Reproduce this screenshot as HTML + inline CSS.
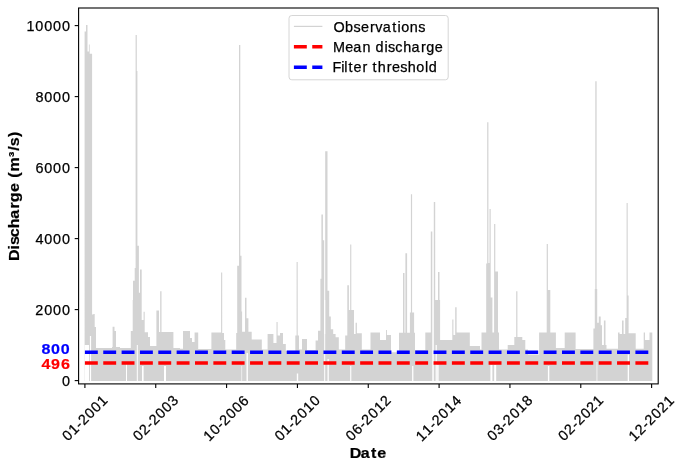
<!DOCTYPE html>
<html><head><meta charset="utf-8"><style>
html,body{margin:0;padding:0;background:#fff;}
svg{display:block;will-change:transform;}
text{font-family:"Liberation Sans",sans-serif;fill:#000;}
.tk{stroke:#000;stroke-width:1.1;}
</style></head><body>
<svg width="685" height="469" viewBox="0 0 685 469">
<rect width="685" height="469" fill="#fff"/>
<path d="M84.6 381V31.5H86.0V25.1H87.5V51.4H88.9V44.4H89.7V53.8H92.1V314.5H93.4V314.0H94.7V327.0H96.0V348.0H112.0V347.0H112.6V326.7H114.5V331.0H116.0V347.0H120.0V348.0H130.8V331.0H132.7V300.0H133.0V280.7H134.7V268.0H135.6V35.0H136.8V71.0H137.4V245.7H138.9V292.7H140.0V269.6H141.7V320.0H143.6V311.7H144.7V332.2H148.0V337.0H150.0V346.0H156.4V310.5H159.0V332.0H160.2V291.3H161.5V332.0H173.4V348.0H180.0V348.7H183.0V331.0H190.0V338.0H192.0V342.0H194.6V332.6H198.2V349.0H211.4V332.6H221.1V272.6H222.2V333.0H224.0V340.0H225.3V349.4H236.2V333.0H237.2V265.7H239.0V45.0H240.3V255.7H241.5V311.6H242.1V331.7H245.0V297.7H246.5V318.3H248.4V331.7H251.7V339.5H261.8V349.4H267.6V334.0H273.4V343.0H276.5V322.0H277.6V335.5H280.0V333.0H283.0V344.0H285.8V350.8H295.3V335.5H296.6V262.0H297.7V335.5H299.0V349.4H302.0V339.0H307.0V350.0H315.6V340.4H318.0V330.8H320.4V278.7H321.4V214.4H322.9V240.3H324.2V334.0H325.2V151.3H327.5V290.8H329.2V316.4H330.8V329.2H333.2V334.0H335.6V337.2H338.8V349.4H345.2V335.6H347.3V285.2H348.9V310.0H350.2V244.5H351.3V310.0H354.0V334.0H355.6V322.8H356.9V333.2H361.8V349.4H370.5V332.6H380.0V340.0H386.0V330.0H386.9V335.0H391.0V352.3H399.0V332.7H403.0V273.0H404.5V332.7H405.4V253.2H407.1V332.7H409.9V312.5H410.9V194.3H412.1V312.5H414.1V332.7H415.0V350.0H425.3V332.6H430.8V231.5H432.3V381.0H433.8V202.0H435.2V300.0H438.0V272.0H439.5V300.0H440.1V340.0H452.3V319.5H453.4V335.0H455.2V307.3H456.6V332.6H469.8V346.0H480.0V349.4H481.5V332.6H486.2V263.5H487.2V122.2H488.4V263.0H489.5V209.0H490.7V297.6H492.4V332.6H494.1V224.0H495.3V271.6H498.0V332.6H499.0V349.4H507.7V345.0H514.3V337.0H516.2V291.2H517.4V337.0H522.3V340.0H525.3V349.4H528.0V354.5H539.1V332.6H546.7V244.0H547.9V290.0H550.3V332.6H555.9V348.0H564.7V332.6H575.6V349.0H593.4V328.4H594.8V289.0H595.3V81.2H596.6V289.0H597.2V322.8H598.8V316.4H600.7V325.2H602.0V345.0H603.9V320.4H605.5V345.0H606.5V348.7H618.0V332.4H619.6V334.0H622.0V320.4H623.6V334.0H625.2V318.0H626.6V203.0H627.7V295.6H628.6V333.2H635.7V348.7H643.7V332.6H645.0V340.0H649.5V332.6H652.3V381.0H652.4V381Z" fill="#d3d3d3"/>
<g fill="#fff"><rect x="84.6" y="345" width="4.4" height="36.5"/><rect x="89.9" y="336" width="1.2" height="45.5"/><rect x="126" y="362" width="1.0" height="19.5"/><rect x="136.8" y="345" width="1.0" height="36.5"/><rect x="142" y="366" width="1.6" height="15.5"/><rect x="164" y="366" width="2.0" height="15.5"/><rect x="241.5" y="366" width="0.6" height="15.5"/><rect x="246.5" y="353" width="1.4" height="28.5"/><rect x="296.8" y="373.5" width="1.4" height="8.0"/><rect x="324.2" y="300" width="1.0" height="81.5"/><rect x="327.5" y="359" width="1.3" height="22.5"/><rect x="350.2" y="366" width="1.1" height="15.5"/><rect x="412.1" y="366" width="1.3" height="15.5"/><rect x="435.6" y="345" width="1.2" height="36.5"/><rect x="437.2" y="365" width="1.4" height="16.5"/><rect x="490.4" y="365" width="2.0" height="16.5"/><rect x="494.2" y="365" width="2.0" height="16.5"/><rect x="547.9" y="366" width="1.4" height="15.5"/><rect x="596.6" y="362" width="0.7" height="19.5"/><rect x="627.7" y="354.5" width="1.3" height="27.0"/></g>
<line x1="84.9" y1="352.20" x2="651.7" y2="352.20" stroke="#0000ff" stroke-width="3.6" stroke-dasharray="12.9 5.45"/>
<line x1="84.9" y1="362.99" x2="651.7" y2="362.99" stroke="#ff0000" stroke-width="3.6" stroke-dasharray="12.9 5.45"/>
<rect x="78.6" y="8.0" width="579.6" height="375.9" fill="none" stroke="#000" stroke-width="1.1"/>
<line x1="74.7" y1="380.60" x2="78.6" y2="380.60" class="tk"/><text x="61.88" y="385.80" style="font-size:14.4px;fill:#000;stroke:#000;stroke-width:0.25px;">0</text><line x1="74.7" y1="309.60" x2="78.6" y2="309.60" class="tk"/><text x="35.20 44.21 53.05 61.88" y="314.80" style="font-size:14.4px;fill:#000;stroke:#000;stroke-width:0.25px;">2000</text><line x1="74.7" y1="238.60" x2="78.6" y2="238.60" class="tk"/><text x="35.39 44.21 53.05 61.88" y="243.80" style="font-size:14.4px;fill:#000;stroke:#000;stroke-width:0.25px;">4000</text><line x1="74.7" y1="167.60" x2="78.6" y2="167.60" class="tk"/><text x="35.38 44.21 53.05 61.88" y="172.80" style="font-size:14.4px;fill:#000;stroke:#000;stroke-width:0.25px;">6000</text><line x1="74.7" y1="96.60" x2="78.6" y2="96.60" class="tk"/><text x="35.38 44.21 53.05 61.88" y="101.80" style="font-size:14.4px;fill:#000;stroke:#000;stroke-width:0.25px;">8000</text><line x1="74.7" y1="25.60" x2="78.6" y2="25.60" class="tk"/><text x="26.46 35.37 44.21 53.05 61.88" y="30.80" style="font-size:14.4px;fill:#000;stroke:#000;stroke-width:0.25px;">10000</text>
<line x1="84.90" y1="383.9" x2="84.90" y2="387.9" class="tk"/><text x="-28.43 -19.66 -11.04 -5.91 3.09 11.93 20.70" y="4.95" style="font-size:14.4px;fill:#000;stroke:#000;stroke-width:0.25px;" transform="translate(84.60,418.1) rotate(-45)">01-2001</text><line x1="155.74" y1="383.9" x2="155.74" y2="387.9" class="tk"/><text x="-28.52 -19.85 -11.13 -6.00 3.00 11.84 20.71" y="4.95" style="font-size:14.4px;fill:#000;stroke:#000;stroke-width:0.25px;" transform="translate(155.44,418.1) rotate(-45)">02-2003</text><line x1="226.58" y1="383.9" x2="226.58" y2="387.9" class="tk"/><text x="-29.01 -20.11 -11.56 -6.42 2.58 11.42 20.27" y="4.95" style="font-size:14.4px;fill:#000;stroke:#000;stroke-width:0.25px;" transform="translate(226.28,418.1) rotate(-45)">10-2006</text><line x1="297.42" y1="383.9" x2="297.42" y2="387.9" class="tk"/><text x="-28.61 -19.84 -11.23 -6.09 2.91 11.68 20.59" y="4.95" style="font-size:14.4px;fill:#000;stroke:#000;stroke-width:0.25px;" transform="translate(297.12,418.1) rotate(-45)">01-2010</text><line x1="368.26" y1="383.9" x2="368.26" y2="387.9" class="tk"/><text x="-28.38 -19.53 -11.00 -5.86 3.14 11.91 20.65" y="4.95" style="font-size:14.4px;fill:#000;stroke:#000;stroke-width:0.25px;" transform="translate(367.96,418.1) rotate(-45)">06-2012</text><line x1="439.10" y1="383.9" x2="439.10" y2="387.9" class="tk"/><text x="-29.06 -20.22 -11.61 -6.47 2.53 11.30 20.22" y="4.95" style="font-size:14.4px;fill:#000;stroke:#000;stroke-width:0.25px;" transform="translate(438.80,418.1) rotate(-45)">11-2014</text><line x1="509.94" y1="383.9" x2="509.94" y2="387.9" class="tk"/><text x="-28.60 -19.73 -11.21 -6.08 2.93 11.70 20.61" y="4.95" style="font-size:14.4px;fill:#000;stroke:#000;stroke-width:0.25px;" transform="translate(509.64,418.1) rotate(-45)">03-2018</text><line x1="580.78" y1="383.9" x2="580.78" y2="387.9" class="tk"/><text x="-28.43 -19.76 -11.04 -5.91 3.09 11.77 20.70" y="4.95" style="font-size:14.4px;fill:#000;stroke:#000;stroke-width:0.25px;" transform="translate(580.48,418.1) rotate(-45)">02-2021</text><line x1="651.62" y1="383.9" x2="651.62" y2="387.9" class="tk"/><text x="-28.80 -20.06 -11.35 -6.21 2.79 11.46 20.39" y="4.95" style="font-size:14.4px;fill:#000;stroke:#000;stroke-width:0.25px;" transform="translate(651.32,418.1) rotate(-45)">12-2021</text>
<text x="37.66 46.46 55.24" y="354.30" style="font-size:14.6px;font-weight:bold;fill:#0000ff;stroke:#0000ff;stroke-width:0.2px;" transform="scale(1.1,1)">800</text>
<text x="37.65 46.45 55.36" y="369.50" style="font-size:14.6px;font-weight:bold;fill:#ff0000;stroke:#ff0000;stroke-width:0.2px;" transform="scale(1.1,1)">496</text>
<text x="-58.96 -48.37 -44.42 -37.21 -29.16 -20.48 -11.26 -5.44 3.74 12.33 16.69 22.41 35.75 41.30 45.39 53.92" y="0.00" style="font-size:14.6px;font-weight:bold;fill:#000;stroke:#000;stroke-width:0.2px;" transform="translate(18.9,196.2) rotate(-90) scale(1.1,1)">Discharge (m³/s)</text>
<text x="317.87 328.03 337.37 343.02" y="457.80" style="font-size:14.6px;font-weight:bold;fill:#000;stroke:#000;stroke-width:0.2px;" transform="scale(1.1,1)">Date</text>
<rect x="289" y="15.5" width="159.2" height="64.3" rx="2.8" fill="#fff" fill-opacity="0.8" stroke="#d6d6d6" stroke-width="1"/>
<line x1="293.9" y1="26.4" x2="322.4" y2="26.4" stroke="#d3d3d3" stroke-width="1.2"/>
<line x1="293.9" y1="46.8" x2="322.4" y2="46.8" stroke="#ff0000" stroke-width="3.6" stroke-dasharray="12.9 5.45"/>
<line x1="293.9" y1="67.2" x2="322.4" y2="67.2" stroke="#0000ff" stroke-width="3.6" stroke-dasharray="12.9 5.45"/>
<text x="333.49 345.05 353.50 360.91 369.88 375.37 382.81 392.28 397.39 401.15 409.82 418.33" y="31.90" style="font-size:14.4px;fill:#000;stroke:#000;stroke-width:0.25px;">Observations</text>
<text x="333.04 345.33 353.30 362.50 371.09 375.61 384.46 388.10 395.27 403.25 411.38 420.89 426.19 434.75" y="52.00" style="font-size:14.4px;fill:#000;stroke:#000;stroke-width:0.25px;">Mean discharge</text>
<text x="332.62 341.37 344.21 348.42 353.49 362.46 367.65 372.54 377.70 386.83 392.12 400.18 407.69 416.34 424.92 428.77" y="71.90" style="font-size:14.4px;fill:#000;stroke:#000;stroke-width:0.25px;">Filter threshold</text>
</svg>
</body></html>
